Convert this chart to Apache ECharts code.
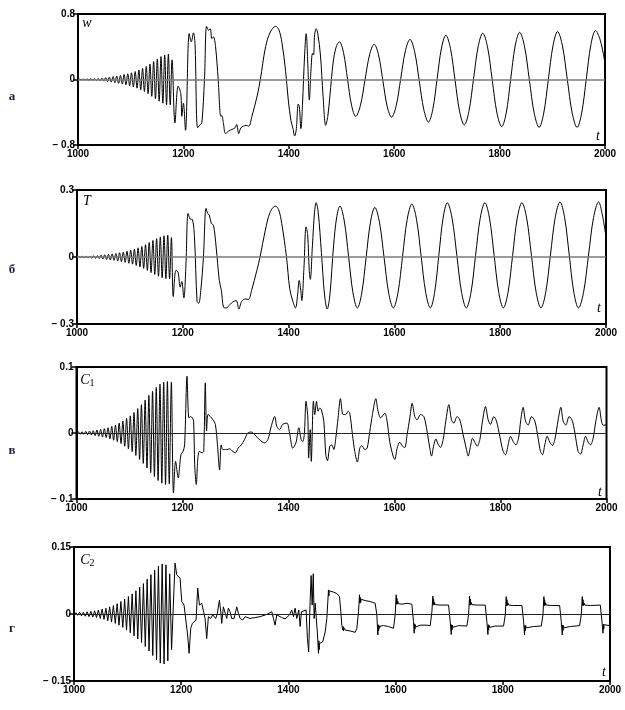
<!DOCTYPE html>
<html><head><meta charset="utf-8">
<script src="https://cdn.jsdelivr.net/npm/echarts@6/dist/echarts.min.js"></script>
<style>html,body{margin:0;padding:0;background:#fff}#c{width:625px;height:710px}</style>
</head><body><div id="c"></div>
<script>
// ---- axis ticks ----
var xTicks = [1000, 1200, 1400, 1600, 1800, 2000];
var wTicks = [-0.8, 0, 0.8];
var TTicks = [-0.3, 0, 0.3];
var c1Ticks = [-0.1, 0, 0.1];
var c2Ticks = [-0.15, 0, 0.15];
var panelLetters = ['а', 'б', 'в', 'г'];

// ---- early growing oscillation: extrema every 3.5 time units from t = 1000 ----
var oscStart = 1000, oscStep = 3.5;
var wOsc = [-0.003,0.003,-0.004,0.004,-0.005,0.006,-0.007,0.008,-0.009,0.010,-0.012,0.013,-0.015,0.018,-0.020,0.023,-0.026,0.029,-0.032,0.035,-0.039,0.042,-0.046,0.050,-0.055,0.060,-0.065,0.070,-0.076,0.082,-0.090,0.097,-0.105,0.115,-0.125,0.135,-0.147,0.160,-0.175,0.190,-0.205,0.220,-0.235,0.250,-0.265,0.280,-0.290,0.300,-0.310,0.310,-0.310];
var TOsc = [-0.002,0.002,-0.002,0.003,-0.003,0.003,-0.004,0.004,-0.005,0.005,-0.006,0.006,-0.007,0.008,-0.009,0.010,-0.011,0.012,-0.013,0.014,-0.015,0.016,-0.018,0.019,-0.021,0.022,-0.024,0.026,-0.028,0.030,-0.032,0.035,-0.038,0.041,-0.044,0.047,-0.051,0.055,-0.060,0.065,-0.070,0.074,-0.078,0.082,-0.086,0.090,-0.093,0.095,-0.097,0.098,-0.098];
var c1Osc = [-0.002,0.002,-0.002,0.002,-0.002,0.0025,-0.0025,0.003,-0.003,0.0035,-0.004,0.0045,-0.005,0.0055,-0.006,0.0065,-0.007,0.008,-0.009,0.010,-0.011,0.012,-0.013,0.015,-0.016,0.018,-0.020,0.022,-0.024,0.026,-0.028,0.031,-0.034,0.037,-0.040,0.043,-0.046,0.050,-0.053,0.057,-0.060,0.063,-0.066,0.069,-0.072,0.074,-0.076,0.077,-0.078,0.078,-0.077];
var c2Osc = [-0.003,0.003,-0.003,0.004,-0.004,0.004,-0.005,0.005,-0.006,0.006,-0.007,0.007,-0.008,0.009,-0.010,0.011,-0.012,0.013,-0.015,0.016,-0.018,0.019,-0.021,0.023,-0.025,0.028,-0.030,0.033,-0.036,0.039,-0.042,0.045,-0.049,0.052,-0.056,0.060,-0.064,0.068,-0.073,0.078,-0.083,0.088,-0.093,0.098,-0.103,0.107,-0.110,0.112,-0.112,0.110,-0.105];

// ---- remaining trace [t, value] ----
var wRest = [[1178.5,0.24],[1184,-0.53],[1190,-0.08],[1195,-0.17],[1197,-0.45],[1200,-0.29],[1204,-0.62],[1211,0.56],[1215,0.46],[1219,0.57],[1222,0.44],[1227,-0.59],[1232,-0.55],[1235,-0.53],[1240,0],[1244,0.65],[1248,0.6],[1251,0.62],[1254,0.5],[1257,0.52],[1261,0.4],[1266,0],[1271,-0.45],[1273,-0.44],[1276,-0.54],[1280,-0.66],[1286,-0.63],[1292,-0.61],[1298,-0.59],[1301,-0.55],[1305,-0.66],[1309,-0.59],[1314,-0.57],[1319,-0.56],[1324,-0.57],[1330,-0.45],[1340,-0.2],[1346,0],[1356,0.4],[1365,0.58],[1375,0.65],[1381,0.61],[1387,0.45],[1394,0.1],[1399,-0.25],[1404,-0.5],[1408,-0.6],[1411,-0.69],[1414,-0.62],[1418,-0.3],[1420,-0.33],[1423,-0.6],[1426,-0.3],[1430,0.3],[1433,0.56],[1436,0.2],[1439,-0.25],[1442,0.1],[1445,0.32],[1447,0.3],[1449,0.55],[1452,0.62],[1455,0.56],[1460,0.3],[1465,-0.2],[1470,-0.56],[1474,-0.45],[1478,-0.2],[1484,0.2],[1490,0.4],[1496,0.46],
[1503.75,0.33],[1511.5,0.0],[1519.25,-0.32],[1527,-0.45],[1535.75,-0.32],[1544.5,-0.01],[1553.25,0.30],[1562,0.43],[1570.25,0.30],[1578.5,-0.015],[1586.75,-0.33],[1595,-0.46],[1603.75,-0.32],[1612.5,0.015],[1621.25,0.35],[1630,0.49],[1638.75,0.34],[1647.5,-0.015],[1656.25,-0.37],[1665,-0.52],[1673.25,-0.365],[1681.5,0.01],[1689.75,0.385],[1698,0.54],[1706.75,0.38],[1715.5,-0.01],[1724.25,-0.395],[1733,-0.555],[1741.75,-0.39],[1750.5,0.005],[1759.25,0.40],[1768,0.565],[1777,0.40],[1786,-0.005],[1795,-0.41],[1804,-0.575],[1812.5,-0.41],[1821,0],[1829.5,0.41],[1838,0.576],[1847.25,0.405],[1856.5,-0.005],[1865.75,-0.415],[1875,-0.585],[1883.75,-0.41],[1892.5,0],[1901.25,0.41],[1910,0.585],[1919.25,0.41],[1928.5,0],[1937.75,-0.41],[1947,-0.585],[1955.75,-0.41],[1964.5,0.006],[1973.25,0.425],[1982,0.597],[1991,0.48],[2000,0.2]];

var TRest = [[1178.5,0.087],[1182,-0.177],[1187,-0.06],[1191,-0.068],[1195,-0.135],[1198,-0.11],[1202,-0.183],[1206,-0.03],[1210,0.195],[1214,0.17],[1218,0.168],[1222,0.09],[1227,-0.2],[1230,-0.207],[1234,-0.15],[1239,0],[1244,0.218],[1247,0.195],[1250,0.188],[1254,0.15],[1258,0.142],[1263,0.045],[1269,-0.105],[1273,-0.15],[1277,-0.225],[1282,-0.228],[1289,-0.213],[1295,-0.2],[1301,-0.195],[1306,-0.233],[1311,-0.2],[1318,-0.188],[1324,-0.19],[1330,-0.15],[1340,-0.06],[1346,0],[1356,0.12],[1365,0.2],[1375,0.228],[1381,0.213],[1387,0.15],[1396,0],[1402,-0.14],[1408,-0.198],[1413,-0.228],[1417,-0.17],[1420,-0.105],[1423,-0.15],[1425,-0.195],[1429,-0.05],[1433,0.135],[1436,0.1],[1439,-0.06],[1441,-0.1],[1445,0.05],[1449,0.2],[1452,0.243],[1456,0.2],[1462,0.02],[1468,-0.17],[1473,-0.233],[1478,-0.17],[1485,0.05],[1491,0.18],[1497,0.228],
[1505.25,0.161],[1513.5,0],[1521.75,-0.161],[1530,-0.228],[1538.25,-0.162],[1546.5,-0.003],[1554.75,0.156],[1563,0.222],[1571.75,0.156],[1580.5,-0.003],[1589.25,-0.162],[1598,-0.228],[1606.75,-0.16],[1615.5,0.005],[1624.25,0.169],[1633,0.237],[1641.75,0.169],[1650.5,0.005],[1659.25,-0.16],[1668,-0.228],[1676,-0.159],[1684,0.008],[1692,0.174],[1700,0.243],[1709,0.174],[1718,0.008],[1727,-0.159],[1736,-0.228],[1744.75,-0.159],[1753.5,0.008],[1762.25,0.174],[1771,0.243],[1779.75,0.174],[1788.5,0.008],[1797.25,-0.159],[1806,-0.228],[1814.75,-0.159],[1823.5,0.008],[1832.25,0.174],[1841,0.243],[1850,0.174],[1859,0.008],[1868,-0.159],[1877,-0.228],[1886,-0.159],[1895,0.009],[1904,0.177],[1913,0.246],[1921.75,0.177],[1930.5,0.009],[1939.25,-0.159],[1948,-0.228],[1957.5,-0.159],[1967,0.009],[1976.5,0.177],[1986,0.246],[1993,0.19],[2000,0.09]];

var c1Rest = [[1179,0.077],[1183,-0.091],[1187,-0.043],[1192,-0.068],[1195,-0.048],[1197,-0.033],[1201,-0.028],[1204,-0.018],[1208.5,0.086],[1212,0.023],[1215,0.025],[1218.5,0.023],[1221,0.018],[1223,-0.048],[1226,-0.078],[1229,-0.038],[1232,-0.028],[1237,-0.03],[1240,-0.028],[1243,0.076],[1245.5,0.003],[1248,0.028],[1252.5,0.025],[1257.5,0.02],[1262,0.013],[1266,-0.018],[1270,-0.056],[1273,-0.018],[1276,-0.025],[1283,-0.025],[1289,-0.024],[1295,-0.028],[1300,-0.03],[1305,-0.023],[1311,-0.018],[1317,-0.01],[1323,0],[1330,0.0015],[1336,-0.0025],[1345,-0.01],[1355,-0.015],[1361,-0.01],[1367,0.009],[1374,0.025],[1378,0.01],[1383,0.005],[1389,0.013],[1397,0.015],[1402,0],[1408,-0.023],[1414,-0.015],[1419.5,0.008],[1424,-0.01],[1427,-0.013],[1430,0],[1433,0.048],[1436.5,0.023],[1438,-0.038],[1441,0.005],[1443,-0.043],[1447,0.048],[1449.6,0.028],[1452.8,0.048],[1455.9,0.033],[1459,0.038],[1462,0.035],[1466.6,0.018],[1470.4,-0.033],[1473.5,-0.042],[1478,-0.02],[1481.7,-0.018],[1485.5,-0.025],[1489.2,-0.008],[1493.6,0.023],[1498,0.052],[1503,0.028],[1508,0.028],[1512.5,0.033],[1515.6,0.03],[1520.7,-0.0025],[1525,-0.028],[1530,-0.044],[1534.5,-0.023],[1538.3,-0.019],[1544,-0.025],[1548.4,-0.023],[1553.4,0.0025],[1558.4,0.028],[1564.7,0.052],[1569,0.033],[1574,0.023],[1581.7,0.03],[1586,0.018],[1591,-0.013],[1597.4,-0.035],[1600.6,-0.04],[1605,-0.023],[1610,-0.014],[1615,-0.02],[1619.4,-0.022],[1623.8,-0.0025],[1628.9,0.023],[1633.3,0.045],[1638.3,0.025],[1642.7,0.02],[1649,0.028],[1655.3,0.025],[1660.3,0.008],[1666.6,-0.023],[1669.8,-0.035],[1674.2,-0.018],[1678,-0.009],[1682.3,-0.017],[1686.7,-0.022],[1691.8,-0.01],[1696.8,0.018],[1702.5,0.043],[1707.5,0.02],[1711.9,0.015],[1718.2,0.025],[1723.2,0.02],[1729.5,-0.0025],[1735.8,-0.025],[1739,-0.035],[1743.4,-0.02],[1747.1,-0.008],[1751.5,-0.014],[1756,-0.02],[1761,-0.01],[1766,0.018],[1771.7,0.04],[1776.7,0.02],[1781,0.013],[1787.4,0.025],[1792.4,0.018],[1798.7,-0.005],[1805,-0.028],[1809.4,-0.033],[1814.4,-0.018],[1818.8,-0.005],[1823.9,-0.013],[1828.9,-0.018],[1834,-0.008],[1838.3,0.02],[1842.7,0.039],[1847.2,0.018],[1852.2,0.012],[1858.5,0.025],[1864.8,0.018],[1871,-0.008],[1875.4,-0.028],[1879.2,-0.033],[1883.6,-0.018],[1888,-0.005],[1893,-0.014],[1898,-0.019],[1903,-0.008],[1908.8,0.02],[1913.8,0.039],[1918.2,0.018],[1923.2,0.012],[1929.5,0.025],[1935.8,0.018],[1942,-0.008],[1946.5,-0.028],[1951,-0.032],[1956,-0.018],[1960.4,-0.005],[1965.4,-0.014],[1969.8,-0.018],[1974.8,-0.008],[1979.9,0.018],[1986,0.039],[1990.5,0.018],[1993.7,0.012],[2000,0.012]];

var c2Rest = [[1178.5,0.09],[1182,-0.08],[1188.5,0.114],[1191.6,0.088],[1194.8,0.092],[1197.9,0.08],[1201,0.028],[1205.3,0.02],[1209,0.016],[1212,-0.047],[1214.7,-0.088],[1217.8,-0.032],[1220.9,-0.021],[1224.6,-0.025],[1227.7,-0.0135],[1230.8,0.058],[1234,0.02],[1238.3,0.024],[1241.4,0.02],[1244.5,-0.01],[1247.6,-0.055],[1250.7,-0.006],[1255,-0.01],[1258.8,-0.002],[1261.3,0.0015],[1264.4,-0.01],[1267.5,0.0015],[1271.3,0.031],[1273.8,0.005],[1275.6,-0.021],[1278.7,0.016],[1281.9,0.016],[1285,-0.01],[1288,0.013],[1291.2,0.005],[1294.3,-0.01],[1298.7,-0.01],[1303.6,0.016],[1306.7,0.0015],[1309.9,-0.01],[1314.8,-0.0135],[1319.2,-0.006],[1322.3,-0.008],[1328.5,-0.01],[1337.9,-0.008],[1347.2,-0.006],[1359.6,-0.001],[1369,0.005],[1372,-0.01],[1375.2,-0.025],[1378.3,-0.002],[1382,-0.006],[1387.6,-0.008],[1393.9,-0.011],[1397,-0.0135],[1402,-0.002],[1406.3,0.009],[1409.4,-0.006],[1412.5,0.013],[1415.6,-0.01],[1419.4,0.009],[1421.9,-0.028],[1424.4,0.005],[1428,0.0015],[1433,0.009],[1435.5,-0.055],[1437.8,-0.085],[1440.5,0.028],[1442.4,0.086],[1444.3,0.02],[1446.4,0.09],[1448,-0.01],[1450,0.024],[1451.8,0.02],[1454.3,-0.047],[1456.1,-0.088],[1456.8,-0.06],[1457.4,-0.08],[1458,-0.066],[1460.5,-0.07],[1464.2,-0.062],[1468.6,-0.04],[1471.7,-0.01],[1474.8,0.054],[1475.5,0.04],[1476.2,0.052],[1477.9,0.05],[1484,0.049],[1490.3,0.046],[1495.3,0.039],[1497.8,0.005],[1499.7,-0.025],[1501.5,-0.036],[1502.2,-0.028],[1502.9,-0.038],[1503.6,-0.031],[1505.9,-0.036],[1515.2,-0.038],[1524.6,-0.041],[1527.7,-0.032],[1530.8,0.005],
[1532.7,0.043],[1533.4,0.024],[1534.1,0.037],[1534.8,0.026],[1535.8,0.033],[1537,0.029],[1543.2,0.03],[1552.6,0.028],[1561.9,0.024],[1565,-0.002],[1566.9,-0.047],[1567.6,-0.024],[1568.3,-0.038],[1569,-0.026],[1570,-0.032],[1571.2,-0.027],[1577.5,-0.026],[1586.8,-0.028],[1596.1,-0.032],[1599.2,-0.002],[1601.1,0.043],[1601.8,0.022],[1602.5,0.035],[1603.2,0.022],[1604.2,0.028],[1605.4,0.023],[1611.7,0.022],[1621,0.024],[1630.3,0.022],[1633.4,-0.017],[1634.7,-0.043],[1635.4,-0.022],[1636.1,-0.034],[1636.8,-0.024],[1637.8,-0.029],[1639,-0.025],[1645.9,-0.025],[1658.3,-0.025],[1664.6,-0.026],[1667.7,0.005],[1669.5,0.04],[1670.2,0.02],[1670.9,0.033],[1671.6,0.02],[1672.6,0.026],[1673.8,0.021],[1683.2,0.02],[1698.8,0.02],[1701.9,-0.017],[1703.8,-0.046],[1704.5,-0.024],[1705.2,-0.036],[1705.9,-0.025],[1706.9,-0.03],[1708.1,-0.026],[1717.5,-0.026],[1733,-0.027],[1736.1,-0.002],[1738,0.04],[1738.7,0.02],[1739.4,0.033],[1740.1,0.02],[1741.1,0.026],[1742.3,0.021],[1751.7,0.02],[1767.2,0.02],[1770.3,-0.017],[1772.2,-0.046],[1772.9,-0.024],[1773.6,-0.036],[1774.3,-0.025],[1775.3,-0.03],[1776.5,-0.026],[1785.9,-0.027],[1801.4,-0.027],[1804.6,-0.002],[1806.4,0.039],[1807.1,0.019],[1807.8,0.032],[1808.5,0.019],[1809.5,0.025],[1810.7,0.02],[1820.1,0.019],[1835.7,0.019],[1838.8,-0.017],[1840.6,-0.047],[1841.3,-0.025],[1842,-0.037],[1842.7,-0.026],[1843.7,-0.031],[1844.9,-0.027],[1857.4,-0.028],[1871.8,-0.027],[1874.9,-0.002],[1876.7,0.039],[1877.4,0.019],[1878.1,0.032],[1878.8,0.019],[1879.8,0.025],[1881,0.02],[1891.6,0.019],[1906,0.019],[1909.1,-0.017],[1911,-0.047],[1911.7,-0.025],[1912.4,-0.037],[1913.1,-0.026],[1914.1,-0.031],[1915.3,-0.027],[1925.9,-0.028],[1943.3,-0.026],[1946.4,-0.002],[1948.3,0.039],[1949,0.019],[1949.7,0.032],[1950.4,0.019],[1951.4,0.025],[1952.6,0.02],[1963.2,0.019],[1981.9,0.02],[1985,-0.017],[1986.9,-0.043],[1987.6,-0.023],[1988.3,-0.034],[1989,-0.024],[1990,-0.028],[1991.2,-0.025],[2000,-0.026]];

function build(osc, rest) {
  return osc.map(function (v, i) { return [oscStart + i * oscStep, v]; }).concat(rest);
}

var chart = echarts.init(document.getElementById('c'), null, {renderer: 'canvas'});

var grids = [
  {left: 78, top: 14, width: 527, height: 131},
  {left: 77, top: 190, width: 529, height: 134},
  {left: 76.5, top: 367, width: 530, height: 132},
  {left: 74, top: 547, width: 536, height: 134}
];
var yTickSets = [wTicks, TTicks, c1Ticks, c2Ticks];
var datas = [build(wOsc, wRest), build(TOsc, TRest), build(c1Osc, c1Rest), build(c2Osc, c2Rest)];
var smoothing = [0.35, 0.35, 0.3, false];
var zeroStyle = [{color: '#7a7a7a', width: 1.6}, {color: '#7a7a7a', width: 1.6}, {color: '#222', width: 1}, {color: '#222', width: 1}];

function fmtY(v) {
  var a = Math.round(Math.abs(v) * 1000) / 1000;
  if (a === 0) return '0';
  return v < 0 ? '\u2212 ' + a : String(a);
}
function fmtX(v) { return String(Math.round(v)); }
var labelFont = {fontFamily: '"Liberation Sans", Arial, sans-serif', fontWeight: 'bold', fontSize: 10, color: '#000'};

var option = {
  animation: false,
  backgroundColor: '#fff',
  grid: grids.map(function (g) {
    return Object.assign({show: true, borderColor: '#000', borderWidth: 2, backgroundColor: 'transparent', containLabel: false}, g);
  }),
  xAxis: grids.map(function (g, i) {
    return {
      type: 'value', gridIndex: i, min: xTicks[0], max: xTicks[xTicks.length - 1], interval: xTicks[1] - xTicks[0],
      axisLine: {show: true, onZero: false, lineStyle: {color: '#000', width: 2}},
      axisTick: {show: true, inside: false, length: 4, lineStyle: {color: '#000', width: 1.5}},
      axisLabel: Object.assign({show: true, margin: 4, formatter: fmtX, showMinLabel: true, showMaxLabel: true}, labelFont),
      splitLine: {show: false}
    };
  }),
  yAxis: grids.map(function (g, i) {
    var t = yTickSets[i];
    return {
      type: 'value', gridIndex: i, min: t[0], max: t[2], interval: t[2],
      axisLine: {show: true, onZero: false, lineStyle: {color: '#000', width: 2}},
      axisTick: {show: true, inside: false, length: 5, lineStyle: {color: '#000', width: 1.5}},
      axisLabel: Object.assign({show: true, margin: 3, formatter: fmtY, showMinLabel: true, showMaxLabel: true}, labelFont),
      splitLine: {show: false}
    };
  }),
  series: datas.map(function (d, i) {
    return {
      type: 'line', xAxisIndex: i, yAxisIndex: i, data: d,
      showSymbol: false, symbol: 'none', smooth: smoothing[i],
      lineStyle: {color: '#000', width: 1},
      clip: true,
      markLine: {
        silent: true, symbol: 'none', animation: false,
        label: {show: false},
        lineStyle: Object.assign({type: 'solid'}, zeroStyle[i]),
        data: [{yAxis: 0}]
      }
    };
  }),
  graphic: (function () {
    var g = [];
    var serif = '"Liberation Serif", "DejaVu Serif", "Times New Roman", serif';
    var lettersY = [97, 270, 451, 629];
    lettersY.forEach(function (y, i) {
      g.push({type: 'text', x: 12, y: y, style: {text: panelLetters[i], font: 'bold 13px ' + serif, fill: '#1d1d3a', align: 'center', verticalAlign: 'middle'}});
    });
    g.push({type: 'text', x: 87, y: 23, style: {text: 'w', font: 'italic 14px ' + serif, fill: '#000', align: 'center', verticalAlign: 'middle'}});
    g.push({type: 'text', x: 87, y: 201, style: {text: 'T', font: 'italic 14px ' + serif, fill: '#000', align: 'center', verticalAlign: 'middle'}});
    g.push({type: 'text', x: 85, y: 380, style: {text: 'C', font: 'italic 14px ' + serif, fill: '#000', align: 'center', verticalAlign: 'middle'}});
    g.push({type: 'text', x: 92, y: 383, style: {text: '1', font: '10px ' + serif, fill: '#000', align: 'center', verticalAlign: 'middle'}});
    g.push({type: 'text', x: 85, y: 560, style: {text: 'C', font: 'italic 14px ' + serif, fill: '#000', align: 'center', verticalAlign: 'middle'}});
    g.push({type: 'text', x: 92, y: 563, style: {text: '2', font: '10px ' + serif, fill: '#000', align: 'center', verticalAlign: 'middle'}});
    [[598, 136], [599, 308], [600, 492], [604, 672]].forEach(function (p) {
      g.push({type: 'text', x: p[0], y: p[1], style: {text: 't', font: 'italic 14px ' + serif, fill: '#000', align: 'center', verticalAlign: 'middle'}});
    });
    return g;
  })()
};
chart.setOption(option);
</script>
</body></html>
